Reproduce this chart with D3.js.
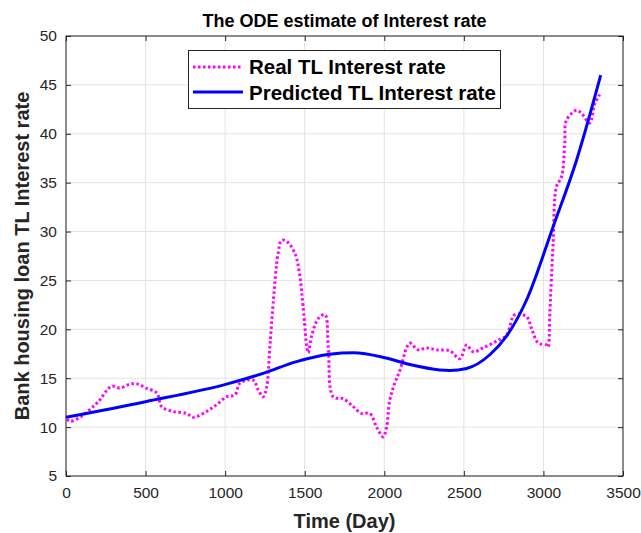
<!DOCTYPE html>
<html>
<head>
<meta charset="utf-8">
<script src="https://cdn.jsdelivr.net/npm/d3@7"></script>
<style>
  body { margin: 0; background: #fff; }
  svg { font-family: "Liberation Sans", Arial, sans-serif; }
  .tick text { fill: #262626; font-size: 15.5px; }
</style>
</head>
<body>
<svg id="chart" width="641" height="533"></svg>
<script>
// real TL interest rate (day, %)
const realDays = [6, 25, 88, 170, 214, 258, 289, 339, 402, 452, 502, 570, 601, 672, 758, 800, 884, 947, 1009, 1062,
  1093, 1176, 1208, 1239, 1261, 1281, 1302, 1333, 1355, 1386, 1438, 1470, 1490, 1522, 1543, 1585, 1627, 1648, 1679,
  1742, 1805, 1857, 1909, 1952, 1993, 2014, 2035, 2066, 2098, 2140, 2161, 2213, 2266, 2328, 2412, 2475, 2517, 2558,
  2621, 2705, 2768, 2820, 2894, 2925, 2967, 3019, 3029, 3040, 3061, 3082, 3114, 3134, 3145, 3208, 3239, 3291, 3323, 3354];
const realRate = [10.8, 10.6, 11.0, 12.1, 12.8, 13.8, 14.2, 14.0, 14.4, 14.4, 14.0, 13.5, 12.1, 11.6, 11.4, 11.0, 11.6, 12.3, 13.1, 13.3,
  14.5, 14.8, 13.8, 13.1, 14.1, 18.2, 22.7, 27.8, 29.1, 29.0, 27.8, 25.4, 22.3, 17.6, 19.3, 21.1, 21.5, 18.2, 13.1,
  12.9, 12.1, 11.4, 11.4, 10.0, 9.0, 10.0, 12.8, 14.5, 15.8, 18.1, 18.6, 17.9, 18.1, 17.9, 17.8, 17.0, 18.4, 17.7,
  18.1, 18.8, 19.4, 21.5, 21.3, 20.1, 18.6, 18.4, 18.2, 21.6, 28.8, 34.6, 35.6, 39.0, 41.4, 42.4, 42.1, 41.1, 43.1, 44.0];

// ODE predicted rate
const predDays = [0, 500, 1009, 1239, 1449, 1658, 1805, 2003, 2161, 2349, 2412, 2517, 2663, 2768, 2894, 3061, 3208, 3360];
const predRate = [11.0, 12.6, 14.4, 15.5, 16.7, 17.45, 17.6, 17.1, 16.4, 15.85, 15.8, 16.0, 17.4, 19.3, 23.0, 30.5, 37.3, 46.0];

const xTicks = [0, 500, 1000, 1500, 2000, 2500, 3000, 3500];
const yTicks = [5, 10, 15, 20, 25, 30, 35, 40, 45, 50];

const m = { left: 66, right: 623, top: 36, bottom: 476 };

const svg = d3.select("#chart");

const x = d3.scaleLinear().domain([0, 3500]).range([m.left, m.right]);
const y = d3.scaleLinear().domain([5, 50]).range([m.bottom, m.top]);

// grid
svg.append("g")
  .selectAll("line")
  .data(xTicks)
  .join("line")
  .attr("x1", (d) => x(d))
  .attr("x2", (d) => x(d))
  .attr("y1", m.top)
  .attr("y2", m.bottom)
  .attr("stroke", "#e3e3e3");

svg.append("g")
  .selectAll("line")
  .data(yTicks)
  .join("line")
  .attr("x1", m.left)
  .attr("x2", m.right)
  .attr("y1", (d) => y(d))
  .attr("y2", (d) => y(d))
  .attr("stroke", "#e3e3e3");

// axes
svg.append("g")
  .attr("transform", "translate(0," + m.bottom + ")")
  .call(d3.axisBottom(x).tickValues(xTicks).tickFormat(d3.format("d"))
    .tickSizeInner(-5).tickSizeOuter(0).tickPadding(11));
svg.append("g")
  .attr("transform", "translate(" + m.left + ",0)")
  .call(d3.axisLeft(y).tickValues(yTicks).tickFormat(d3.format("d"))
    .tickSizeInner(-5).tickSizeOuter(0).tickPadding(9));
svg.append("g")
  .attr("transform", "translate(0," + m.top + ")")
  .call(d3.axisTop(x).tickValues(xTicks).tickSizeInner(-5).tickSizeOuter(0).tickFormat(""));
svg.append("g")
  .attr("transform", "translate(" + m.right + ",0)")
  .call(d3.axisRight(y).tickValues(yTicks).tickSizeInner(-5).tickSizeOuter(0).tickFormat(""));

svg.selectAll(".domain").remove();
svg.selectAll(".tick line").attr("stroke", "#262626");

// box
svg.append("rect")
  .attr("x", m.left)
  .attr("y", m.top)
  .attr("width", m.right - m.left)
  .attr("height", m.bottom - m.top)
  .attr("fill", "none")
  .attr("stroke", "#262626")
  .attr("stroke-width", 1);

// lines
const realLine = d3.line()
  .x((d, i) => x(realDays[i]))
  .y((d) => y(d))
  .curve(d3.curveCatmullRom);

const predLine = d3.line()
  .x((d, i) => x(predDays[i]))
  .y((d) => y(d))
  .curve(d3.curveMonotoneX);

svg.append("path")
  .attr("d", realLine(realRate))
  .attr("fill", "none")
  .attr("stroke", "#ff00ff")
  .attr("stroke-width", 3)
  .attr("stroke-dasharray", "2.5,2.5");

svg.append("path")
  .attr("d", predLine(predRate))
  .attr("fill", "none")
  .attr("stroke", "#0000ff")
  .attr("stroke-width", 3);

// legend
const legend = svg.append("g");
legend.append("rect")
  .attr("x", 188.5)
  .attr("y", 50.5)
  .attr("width", 312)
  .attr("height", 58)
  .attr("fill", "#fff")
  .attr("stroke", "#262626");
legend.append("line")
  .attr("x1", 193).attr("x2", 243)
  .attr("y1", 67).attr("y2", 67)
  .attr("stroke", "#ff00ff")
  .attr("stroke-width", 3)
  .attr("stroke-dasharray", "2.5,2.5");
legend.append("line")
  .attr("x1", 193).attr("x2", 243)
  .attr("y1", 92).attr("y2", 92)
  .attr("stroke", "#0000ff")
  .attr("stroke-width", 3);
legend.append("text")
  .attr("x", 249).attr("y", 74)
  .attr("font-size", 20.5).attr("font-weight", "bold").attr("fill", "#000")
  .text("Real TL Interest rate");
legend.append("text")
  .attr("x", 249).attr("y", 100)
  .attr("font-size", 20.5).attr("font-weight", "bold").attr("fill", "#000")
  .text("Predicted TL Interest rate");

// titles
svg.append("text")
  .attr("x", (m.left + m.right) / 2)
  .attr("y", 27)
  .attr("text-anchor", "middle")
  .attr("font-size", 18)
  .attr("font-weight", "bold")
  .text("The ODE estimate of Interest rate");

svg.append("text")
  .attr("x", (m.left + m.right) / 2)
  .attr("y", 528)
  .attr("text-anchor", "middle")
  .attr("font-size", 20)
  .attr("font-weight", "bold")
  .attr("fill", "#262626")
  .text("Time (Day)");

svg.append("text")
  .attr("transform", "translate(29," + (m.top + m.bottom) / 2 + ") rotate(-90)")
  .attr("text-anchor", "middle")
  .attr("font-size", 20)
  .attr("font-weight", "bold")
  .attr("fill", "#262626")
  .text("Bank housing loan TL Interest rate");
</script>
</body>
</html>
